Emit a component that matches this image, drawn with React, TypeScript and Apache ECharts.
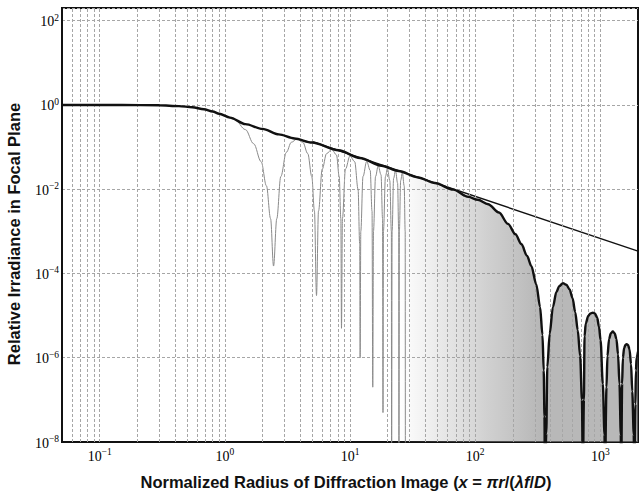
import React, { useEffect, useRef } from "react";
import * as echarts from "echarts";

// Thick black curve: envelope of the irradiance
const envelopeCurve: [number, number][] = [
  [0.05, 1.0], [0.15, 1.0], [0.3, 0.98], [0.43, 0.94], [0.55, 0.88], [0.68, 0.79],
  [0.8, 0.7], [0.9, 0.62], [1.1, 0.5], [1.46, 0.35], [2.0, 0.27], [2.7, 0.2],
  [3.6, 0.16], [4.97, 0.128], [8.1, 0.084], [12, 0.055], [17.9, 0.036], [24.4, 0.027],
  [35, 0.019], [47.7, 0.014], [66.8, 0.0098], [88, 0.0066], [105, 0.0056], [127, 0.0044],
  [155, 0.0028], [183, 0.0015], [210, 8.5e-4], [234, 5e-4], [260, 2.6e-4], [281, 1.5e-4],
  [308, 5.5e-5], [330, 1.6e-5], [345, 3.5e-6], [353, 5e-7], [358, 4e-8], [361, 1e-9],
];

// Lobes of the thick curve beyond the first zero
const envelopeLobes: [number, number][] = [
  [370, 1.6e-8], [377, 6e-7], [394, 3.7e-6], [418, 1.6e-5], [445, 3.6e-5], [470, 5e-5],
  [503, 5.9e-5], [535, 5.4e-5], [568, 4.2e-5], [600, 2.6e-5], [630, 1.2e-5], [660, 4.5e-6],
  [690, 1.1e-6], [713, 1e-7], [726, 1e-9],
  [732, 1e-9], [739, 1e-7], [748, 3.2e-6], [765, 6.5e-6], [800, 9.8e-6], [835, 1.13e-5],
  [871, 1.18e-5], [905, 1.12e-5], [943, 9e-6], [975, 5.5e-6], [1005, 2.6e-6],
  [1047, 2.4e-7], [1080, 1.5e-8], [1091, 1e-9],
  [1102, 1e-9], [1120, 2e-7], [1140, 1.1e-6], [1175, 2.8e-6], [1215, 3.8e-6],
  [1258, 4.2e-6], [1300, 3.8e-6], [1345, 2.8e-6], [1385, 1.2e-6], [1423, 2.4e-7],
  [1457, 1.5e-8], [1470, 1e-9],
  [1479, 1e-9], [1493, 2.4e-7], [1515, 1e-6], [1550, 1.7e-6], [1590, 2.05e-6],
  [1626, 2.1e-6], [1665, 2e-6], [1710, 1.6e-6], [1760, 7e-7], [1800, 1.6e-7],
  [1849, 1.5e-8], [1872, 1e-9],
  [1889, 1e-9], [1905, 8e-8], [1925, 5e-7], [1950, 1e-6], [2000, 1.4e-6],
];

// Thin grey oscillating irradiance (first fringes)
const fringeCurve: [number, number][] = [
  [1.0, 0.58], [1.2, 0.45], [1.46, 0.26], [1.7, 0.12], [1.95, 0.045], [2.15, 0.012],
  [2.32, 2e-3], [2.45, 1.5e-4],
  [2.6, 2e-3], [2.8, 0.02], [3.1, 0.075], [3.4, 0.13], [3.77, 0.155], [4.2, 0.13],
  [4.6, 0.07], [4.95, 0.02], [5.2, 3e-3], [5.4, 3e-5],
  [5.6, 3e-3], [6.0, 0.03], [6.5, 0.07], [7.16, 0.088], [7.8, 0.065], [8.2, 0.02],
  [8.45, 2e-3], [8.55, 5e-6],
  [8.7, 2e-3], [9.2, 0.03], [10.0, 0.062], [10.9, 0.045], [11.6, 0.01], [11.95, 5e-4],
  [12.05, 1e-6],
  [12.2, 1e-3], [12.7, 0.02], [13.6, 0.046], [14.5, 0.028], [15.0, 0.003], [15.2, 2e-7],
  [15.4, 1e-3], [16.0, 0.02], [16.8, 0.036], [17.7, 0.022], [18.2, 0.002], [18.35, 5e-8],
  [18.5, 1e-3], [19.2, 0.02], [19.9, 0.031], [20.8, 0.016], [21.4, 0.001], [21.5, 1e-9],
  [21.7, 1e-3], [22.3, 0.018], [23.1, 0.028], [24.0, 0.014], [24.5, 0.001], [24.6, 1e-9],
  [24.8, 1e-3], [25.4, 0.016], [26.2, 0.025], [27.1, 0.012], [27.6, 0.001], [27.7, 1e-9],
];

// Thin straight asymptote
const asymptoteLine: [number, number][] = [
  [5, 0.134], [2000, 3.4e-4],
];

const X_MIN = 0.05;
const X_MAX = 2000;
const Y_MIN = 1e-8;
const Y_MAX = 200;

const xGridValues: number[] = (() => {
  const out: number[] = [];
  for (let d = -2; d <= 3; d++) {
    for (let m = 1; m <= 9; m++) {
      const v = parseFloat((m * Math.pow(10, d)).toPrecision(6));
      if (v > X_MIN * 1.001 && v < X_MAX * 0.999) out.push(v);
    }
  }
  return out;
})();

const powLabel = (v: number) => {
  const l = Math.log10(v);
  const k = Math.round(l);
  if (Math.abs(l - k) > 1e-6) return "";
  const e = k < 0 ? "\u2212" + Math.abs(k) : String(k);
  return `{b|10}{e|${e}}`;
};

const labelRich = {
  b: {
    fontFamily: "Liberation Serif",
    fontSize: 14,
    color: "#000",
    verticalAlign: "bottom",
  },
  e: {
    fontFamily: "Liberation Serif",
    fontSize: 9.5,
    color: "#000",
    verticalAlign: "top",
    padding: [0, 0, 6, 0],
  },
};

const gridLineStyle = { color: "#a6a6a6", width: 1, type: [3, 2] as number[] };

export default function App() {
  const ref = useRef<HTMLDivElement>(null);

  useEffect(() => {
    if (!ref.current) return;
    const chart = echarts.init(ref.current, undefined, { renderer: "svg" });

    const mainDrop = envelopeCurve.filter((p) => p[0] >= 20);
    const lobeArea = [envelopeCurve[envelopeCurve.length - 1], ...envelopeLobes];
    const thick = [...envelopeCurve, ...envelopeLobes];

    const option: any = {
      animation: false,
      backgroundColor: "#fff",
      grid: {
        left: 62,
        right: 1,
        top: 8,
        bottom: 51,
        show: true,
        borderColor: "#111",
        borderWidth: 2,
        backgroundColor: "transparent",
      },
      xAxis: {
        type: "log",
        logBase: 10,
        min: X_MIN,
        max: X_MAX,
        axisLine: { show: true, lineStyle: { color: "#111", width: 2 } },
        axisTick: { show: false },
        splitLine: { show: false },
        axisLabel: {
          margin: 5,
          showMinLabel: false,
          showMaxLabel: false,
          formatter: powLabel,
          rich: labelRich,
        },
      },
      yAxis: {
        type: "log",
        logBase: 100,
        min: Y_MIN,
        max: Y_MAX,
        axisLine: { show: true, lineStyle: { color: "#111", width: 2 } },
        axisTick: { show: false },
        splitLine: { show: true, lineStyle: gridLineStyle },
        axisLabel: {
          margin: 3,
          showMaxLabel: false,
          formatter: powLabel,
          rich: labelRich,
        },
      },
      series: [
        {
          type: "line",
          name: "grid",
          data: [[X_MIN, Y_MIN]],
          showSymbol: false,
          symbol: "none",
          lineStyle: { opacity: 0 },
          silent: true,
          z: 1,
          markLine: {
            silent: true,
            symbol: ["none", "none"],
            label: { show: false },
            lineStyle: gridLineStyle,
            animation: false,
            data: xGridValues.map((v) => ({ xAxis: v })),
          },
        },
        {
          type: "line",
          name: "dense",
          data: mainDrop,
          showSymbol: false,
          symbol: "none",
          smooth: 0.3,
          lineStyle: { width: 0 },
          areaStyle: {
            origin: "start",
            color: new echarts.graphic.LinearGradient(0, 0, 1, 0, [
              { offset: 0, color: "rgba(170,170,170,0.0)" },
              { offset: 0.3, color: "rgba(160,160,160,0.35)" },
              { offset: 0.6, color: "rgba(145,145,145,0.6)" },
              { offset: 1, color: "rgba(130,130,130,0.85)" },
            ]),
          },
          z: 2,
        },
        {
          type: "line",
          name: "lobes",
          data: lobeArea,
          showSymbol: false,
          symbol: "none",
          smooth: 0.3,
          smoothMonotone: "x",
          lineStyle: { width: 0 },
          areaStyle: { origin: "start", color: "rgba(140,140,140,0.88)" },
          z: 2,
        },
        {
          type: "line",
          name: "fringes",
          data: fringeCurve,
          showSymbol: false,
          symbol: "none",
          smooth: 0.35,
          smoothMonotone: "x",
          lineStyle: { color: "#8a8a8a", width: 1 },
          z: 3,
        },
        {
          type: "line",
          name: "asymptote",
          data: asymptoteLine,
          showSymbol: false,
          symbol: "none",
          lineStyle: { color: "#111", width: 1.4 },
          z: 4,
        },
        {
          type: "line",
          name: "envelope",
          data: thick,
          showSymbol: false,
          symbol: "none",
          smooth: 0.3,
          smoothMonotone: "x",
          lineStyle: { color: "#111", width: 2.4 },
          z: 5,
        },
      ],
      graphic: [
        {
          type: "text",
          x: 14,
          y: 234,
          rotation: Math.PI / 2,
          style: {
            text: "Relative Irradiance in Focal Plane",
            fill: "#111",
            font: 'bold 16.5px "Liberation Sans"',
            textAlign: "center",
            textVerticalAlign: "middle",
            align: "center",
            verticalAlign: "middle",
          },
        },
        {
          type: "text",
          x: 346,
          y: 482,
          style: {
            text: "Normalized Radius of Diffraction Image ({i|x} = {i|\u03c0r}/({i|\u03bbf}/{i|D})",
            fill: "#111",
            font: 'bold 16.5px "Liberation Sans"',
            textAlign: "center",
            textVerticalAlign: "middle",
            align: "center",
            verticalAlign: "middle",
            rich: {
              i: {
                fontFamily: "Liberation Sans",
                fontWeight: "bold",
                fontStyle: "italic",
                fontSize: 16.5,
                fill: "#111",
              },
            },
          },
        },
      ],
    };

    chart.setOption(option);
    return () => chart.dispose();
  }, []);

  return (
    <div
      ref={ref}
      style={{ position: "fixed", left: 0, top: 0, width: 639, height: 493, background: "#fff" }}
    />
  );
}
